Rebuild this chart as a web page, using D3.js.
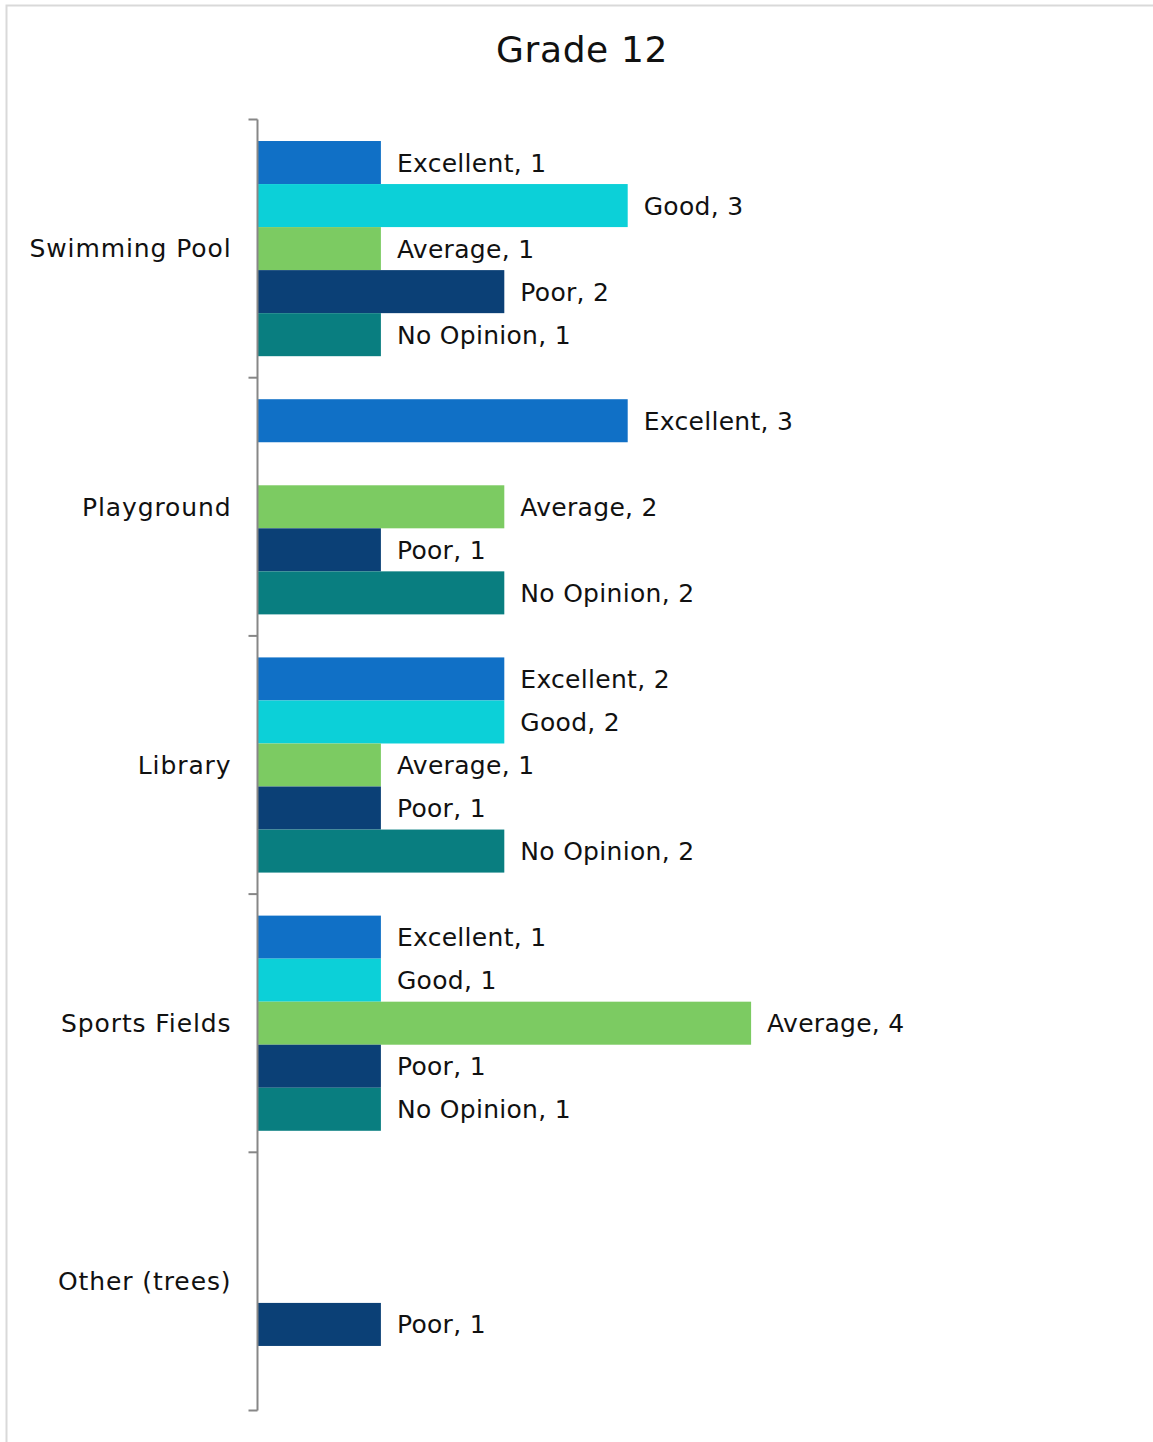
<!DOCTYPE html>
<html>
<head>
<meta charset="utf-8">
<script src="https://cdn.jsdelivr.net/npm/d3@7"></script>
<style>
  html, body { margin: 0; padding: 0; background: #fff; }
  svg { display: block; }
  text { font-family: "DejaVu Sans", sans-serif; fill: #111; }
</style>
</head>
<body>
<svg id="chart" width="1153" height="1442"></svg>
<script>
const title = "Grade 12";
const categories = ["Swimming Pool", "Playground", "Library", "Sports Fields", "Other (trees)"];
const seriesNames = ["Excellent", "Good", "Average", "Poor", "No Opinion"];
const seriesColors = ["#1070C6", "#0CD0D8", "#7CCB62", "#0B4076", "#097E80"];
// values[seriesIndex][categoryIndex]; null = no response
const excellent = [1, 3, 2, 1, null];
const good      = [3, null, 2, 1, null];
const average   = [1, 2, 1, 4, null];
const poor      = [2, 1, 1, 1, 1];
const noOpinion = [1, 2, 2, 1, null];
const seriesValues = [excellent, good, average, poor, noOpinion];

const svg = d3.select("#chart");

// chart border
svg.append("rect")
  .attr("x", 6.5).attr("y", 5.5)
  .attr("width", 1160).attr("height", 1450)
  .attr("fill", "none").attr("stroke", "#d9d9d9").attr("stroke-width", 2);

svg.append("text")
  .attr("x", 582).attr("y", 62)
  .attr("text-anchor", "middle")
  .style("font-size", "36px")
  .style("letter-spacing", "0.6px")
  .text(title);

const plot = { left: 257.5, top: 119.5, bottom: 1410.5 };

const y0 = d3.scaleBand()
  .domain(categories)
  .range([plot.top, plot.bottom])
  .paddingInner(0).paddingOuter(0);

const y1 = d3.scaleBand()
  .domain(seriesNames)
  .range([0, y0.bandwidth()])
  .paddingOuter(0.5).paddingInner(0);

const x = d3.scaleLinear().domain([0, 1]).range([plot.left, plot.left + 123.4]);

const data = [];
categories.forEach((c, ci) => {
  seriesNames.forEach((s, si) => {
    const v = seriesValues[si][ci];
    if (v !== null && v !== undefined) data.push({ category: c, series: s, si, value: v });
  });
});

const g = svg.append("g");

g.selectAll("rect.bar")
  .data(data)
  .join("rect")
  .attr("class", "bar")
  .attr("x", x(0))
  .attr("y", d => y0(d.category) + y1(d.series))
  .attr("width", d => x(d.value) - x(0))
  .attr("height", y1.bandwidth())
  .attr("fill", d => seriesColors[d.si]);

g.selectAll("text.lbl")
  .data(data)
  .join("text")
  .attr("class", "lbl")
  .attr("x", d => x(d.value) + 16)
  .attr("y", d => y0(d.category) + y1(d.series) + y1.bandwidth() / 2 + 9)
  .style("font-size", "25px")
  .style("letter-spacing", "0.3px")
  .text(d => `${d.series}, ${d.value}`);

// category axis
const axis = d3.axisLeft(y0).tickSize(0).tickPadding(26);
const ax = svg.append("g")
  .attr("transform", `translate(${plot.left},0)`)
  .call(axis);
ax.select(".domain").remove();
ax.selectAll("text")
  .style("font-size", "25px")
  .style("letter-spacing", "0.9px")
  .style("font-family", "DejaVu Sans, sans-serif")
  .attr("fill", "#111")
  .attr("dy", "0.35em");

// axis line and tick marks at band boundaries
svg.append("line")
  .attr("x1", plot.left).attr("x2", plot.left)
  .attr("y1", plot.top).attr("y2", plot.bottom)
  .attr("stroke", "#878787").attr("stroke-width", 2);

const boundaries = categories.map(c => y0(c)).concat([plot.bottom]);
svg.selectAll("line.tk")
  .data(boundaries)
  .join("line")
  .attr("class", "tk")
  .attr("x1", plot.left - 9).attr("x2", plot.left)
  .attr("y1", d => d).attr("y2", d => d)
  .attr("stroke", "#878787").attr("stroke-width", 2);
</script>
</body>
</html>
